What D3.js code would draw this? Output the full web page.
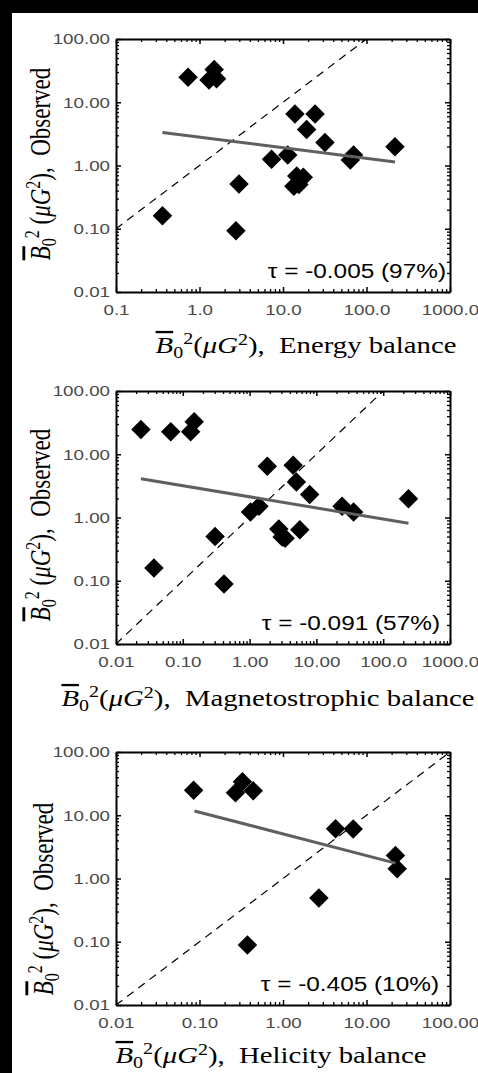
<!DOCTYPE html>
<html lang="en">
<head>
    <meta charset="UTF-8">
    <title>B0^2 observed vs balance estimates</title>
    <script src="https://d3js.org/d3.v7.min.js"></script>
    <style>
        body{
            margin: 0;
            background-color: black;
        }
        svg{
            display: block;
        }
        .tick text{
            font-family: "Liberation Sans", sans-serif;
            font-size: 15px;
            fill: #4a4a4a;
        }
        .axis path, .axis line{
            stroke: black;
        }
        .title{
            font-family: "Liberation Serif", serif;
            font-size: 23px;
            fill: black;
        }
        .tau{
            font-family: "Liberation Sans", sans-serif;
            font-size: 19.5px;
            fill: black;
        }
    </style>
</head>
<body>
    <script>

        // values (x = balance estimate, y = observed)
        const xEnergy = [0.73, 1.3, 1.5, 1.6, 13.9, 24.2, 19.2, 31.8, 219, 70, 64, 7.3, 11.4, 14.6, 17.5, 13.5, 15.5, 2.97, 0.36, 2.73]
        const yEnergy = [24.8, 22.5, 33, 23.5, 6.5, 6.5, 3.7, 2.3, 1.98, 1.47, 1.22, 1.25, 1.47, 0.68, 0.65, 0.47, 0.5, 0.51, 0.161, 0.093]

        const xMagneto = [0.0236, 0.066, 0.131, 0.148, 1.84, 4.49, 5.02, 7.94, 239, 24.2, 36, 1.03, 1.38, 2.74, 5.64, 3.07, 3.4, 0.304, 0.037, 0.414]
        const yMagneto = [24.6, 22.6, 22.6, 32.6, 6.46, 6.7, 3.64, 2.32, 1.98, 1.5, 1.22, 1.22, 1.5, 0.66, 0.64, 0.49, 0.47, 0.5, 0.159, 0.089]

        const xHelicity = [0.085, 0.27, 0.327, 0.44, 4.26, 6.93, 22.2, 23.3, 2.69, 0.375]
        const yHelicity = [24.9, 22.6, 33.8, 24.3, 6.14, 6.07, 2.32, 1.42, 0.49, 0.089]

        // fitted line end points
        const fitEnergyX = [0.36, 220],   fitEnergyY = [3.33, 1.14]
        const fitMagnetoX = [0.0236, 239], fitMagnetoY = [4.11, 0.81]
        const fitHelicityX = [0.087, 22.2], fitHelicityY = [11.7, 1.75]

        const tauLabels = ["τ = -0.005 (97%)", "τ = -0.091 (57%)", "τ = -0.405 (10%)"]
        const balanceNames = ["Energy balance", "Magnetostrophic balance", "Helicity balance"]

        const xTicksEnergy = ["0.1", "1.0", "10.0", "100.0", "1000.0"]
        const xTicksMagneto = ["0.01", "0.10", "1.00", "10.00", "100.0", "1000.0"]
        const xTicksHelicity = ["0.01", "0.10", "1.00", "10.00", "100.00"]
        const yTickLabels = ["0.01", "0.10", "1.00", "10.00", "100.00"]

        //////////////////////////////////////////////////////////////////////

        const svgSize = {width:478, height:1073}
        const STRETCH = 1.25     // the picture is wider than tall, text too
        const box = {left:116, right:450, height:253}

        const panels = [
            {top:39,  xs:xEnergy,   ys:yEnergy,   fx:fitEnergyX,   fy:fitEnergyY,   ticks:xTicksEnergy,
             tauRight:446, titleX:306, titleY:353, yTitleX:50, yTitleY:164},
            {top:391, xs:xMagneto,  ys:yMagneto,  fx:fitMagnetoX,  fy:fitMagnetoY,  ticks:xTicksMagneto,
             tauRight:440, titleX:268, titleY:706, yTitleX:50, yTitleY:525},
            {top:752, xs:xHelicity, ys:yHelicity, fx:fitHelicityX, fy:fitHelicityY, ticks:xTicksHelicity,
             tauRight:439, titleX:271, titleY:1063, yTitleX:53, yTitleY:899}
        ]

        const svg = d3.select("body")
                        .append("svg")
                        .attr("width", svgSize.width)
                        .attr("height", svgSize.height)

        svg.append("rect")
            .attr("x", 12).attr("y", 13)
            .attr("width", svgSize.width-12)
            .attr("height", svgSize.height-13)
            .attr("fill", "white")

        function minorTicks(domain){
            let out = []
            const lo = Math.round(Math.log10(domain[0])), hi = Math.round(Math.log10(domain[1]))
            for(let d = lo; d < hi; d++){
                for(let k = 2; k < 10; k++) out.push(k*Math.pow(10, d))
            }
            return out
        }

        // B-bar_0^2 (mu G^2), ...
        function mathTitle(text, rest, gap){
            text.append("tspan").attr("font-style","italic").style("text-decoration","overline").text("B")
            text.append("tspan").attr("font-size",16).attr("dy",5).text("0")
            text.append("tspan").attr("font-size",16).attr("dy",-14).text("2")
            text.append("tspan").attr("dy",9).text((gap ? " " : "") + "(")
            text.append("tspan").attr("font-style","italic").text("μG")
            text.append("tspan").attr("font-size",16).attr("dy",-8).text("2")
            text.append("tspan").attr("dy",8).text("),\u00a0 " + rest)
        }

        function drawPanel(p, i){
            const bottom = p.top + box.height
            const xDomain = [+p.ticks[0], +p.ticks[p.ticks.length-1]]
            const yDomain = [+yTickLabels[0], +yTickLabels[yTickLabels.length-1]]

            const xScale = d3.scaleLog().domain(xDomain).range([box.left, box.right])
            const yScale = d3.scaleLog().domain(yDomain).range([bottom, p.top])

            const g = svg.append("g").attr("class","panel")

            const clipId = "clip" + i
            g.append("clipPath").attr("id", clipId)
                .append("rect")
                .attr("x", box.left).attr("y", p.top)
                .attr("width", box.right-box.left).attr("height", box.height)

            // one-to-one line
            const lo = Math.max(xDomain[0], yDomain[0]), hi = Math.min(xDomain[1], yDomain[1])
            g.append("line")
                .attr("clip-path", `url(#${clipId})`)
                .attr("x1", xScale(lo)).attr("y1", yScale(lo))
                .attr("x2", xScale(hi)).attr("y2", yScale(hi))
                .attr("stroke", "black")
                .attr("stroke-width", 1.2)
                .attr("stroke-dasharray", "8,6")

            // diamonds
            const diamond = d3.symbol(d3.symbolSquare, 190)
            g.selectAll(".pt")
                .data(p.xs.map((d, j) => [d, p.ys[j]]))
                .enter()
                .append("path")
                .attr("class","pt")
                .attr("d", diamond)
                .attr("transform", d => `translate(${xScale(d[0])},${yScale(d[1])}) rotate(45)`)
                .attr("fill", "black")

            // fit
            const line = d3.line().x(d => xScale(d[0])).y(d => yScale(d[1]))
            g.append("path")
                .attr("d", line(p.fx.map((d, j) => [d, p.fy[j]])))
                .attr("fill", "none")
                .attr("stroke", "#5f5f5f")
                .attr("stroke-width", 3)

            // axes, ticks point inward on all four sides
            const xMajor = p.ticks.map(Number), xMinor = minorTicks(xDomain)
            const yMajor = yTickLabels.map(Number), yMinor = minorTicks(yDomain)
            const axes = [
                [d3.axisBottom(xScale).tickValues(xMajor).tickFormat((d, j) => p.ticks[j]), `translate(0,${bottom})`, xMinor, d3.axisBottom(xScale), 12],
                [d3.axisTop(xScale).tickValues(xMajor).tickFormat(""), `translate(0,${p.top})`, xMinor, d3.axisTop(xScale), 0],
                [d3.axisLeft(yScale).tickValues(yMajor).tickFormat((d, j) => yTickLabels[j]), `translate(${box.left},0)`, yMinor, d3.axisLeft(yScale), 4.8],
                [d3.axisRight(yScale).tickValues(yMajor).tickFormat(""), `translate(${box.right},0)`, yMinor, d3.axisRight(yScale), 0]
            ]
            axes.forEach(a => {
                g.append("g").attr("class","axis")
                    .attr("transform", a[1])
                    .call(a[3].tickValues(a[2]).tickFormat("").tickSize(-3).tickSizeOuter(0))
                    .call(s => s.select(".domain").remove())
                    .selectAll("line").attr("stroke-width", 1.3)
                const ax = g.append("g").attr("class","axis")
                    .attr("transform", a[1])
                    .call(a[0].tickSize(-5).tickSizeOuter(0).tickPadding(a[4]))
                ax.select(".domain").attr("stroke-width", 2)
                ax.selectAll("line").attr("stroke-width", 1.5)
                ax.selectAll("text").attr("transform", `scale(${STRETCH},1)`)
            })

            // tau label
            g.append("text")
                .attr("class","tau")
                .attr("text-anchor","end")
                .attr("transform", `translate(${p.tauRight},${bottom-14}) scale(${STRETCH},1)`)
                .text(tauLabels[i])

            // x title
            const xt = g.append("text")
                .attr("class","title")
                .attr("text-anchor","middle")
                .attr("transform", `translate(${p.titleX},${p.titleY}) scale(${STRETCH},1)`)
            mathTitle(xt, balanceNames[i], false)

            // y title
            const yt = g.append("text")
                .attr("class","title")
                .attr("text-anchor","middle")
                .attr("transform", `translate(${p.yTitleX},${p.yTitleY}) scale(${STRETCH},1) rotate(-90)`)
            mathTitle(yt, "Observed", true)
        }

        panels.forEach(drawPanel)

    </script>
</body>
</html>
